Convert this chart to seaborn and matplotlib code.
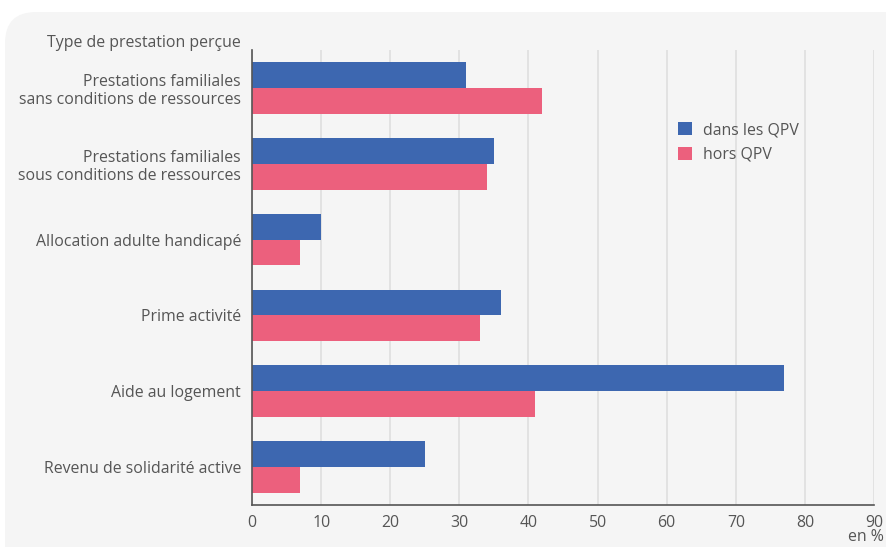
import matplotlib
matplotlib.use("Agg")
import matplotlib.pyplot as plt
import seaborn as sns
import pandas as pd
from matplotlib.patches import FancyBboxPatch, Patch

categories = [
    "Prestations familiales\nsans conditions de ressources",
    "Prestations familiales\nsous conditions de ressources",
    "Allocation adulte handicapé",
    "Prime activité",
    "Aide au logement",
    "Revenu de solidarité active",
]
series = ["dans les QPV", "hors QPV"]
dans_qpv = [31, 35, 10, 36, 77, 25]
hors_qpv = [42, 34, 7, 33, 41, 7]
x_ticks = [0, 10, 20, 30, 40, 50, 60, 70, 80, 90]

colors = {"dans les QPV": "#3D67B0", "hors QPV": "#EC607D"}
txt = "#555555"
fs = 11.4

df = pd.DataFrame({
    "cat": categories * 2,
    "serie": [series[0]] * len(categories) + [series[1]] * len(categories),
    "val": dans_qpv + hors_qpv,
})

sns.set_theme(style="white")
plt.rcParams["font.family"] = ["Open Sans", "DejaVu Sans"]

W, H = 887, 547
fig = plt.figure(figsize=(W / 100, H / 100), dpi=100, facecolor="white")
panel = FancyBboxPatch((5 / W, -0.1), 1.2, (H - 12) / H + 0.1,
                       boxstyle="round,pad=0,rounding_size=0.035",
                       transform=fig.transFigure, facecolor="#F5F5F5",
                       edgecolor="none", zorder=-10, mutation_aspect=W / H)
fig.patches.append(panel)

ax = fig.add_axes([252 / W, 1 - 505 / H, (874 - 252) / W, (505 - 50) / H])
ax.set_zorder(1)
ax.set_facecolor("none")
sns.barplot(data=df, y="cat", x="val", hue="serie", palette=colors,
            orient="h", width=0.68, saturation=1, ax=ax, legend=False,
            linewidth=0, zorder=3)
ax.set_xlim(0, 90)
ax.set_ylim(len(categories) - 0.5, -0.5)
ax.set_xticks(x_ticks)
ax.set_xticklabels([str(t) for t in x_ticks], color=txt, fontsize=fs)
ax.tick_params(axis="y", labelsize=fs, labelcolor=txt, length=0, pad=8)
ax.tick_params(axis="x", length=0, pad=7)
for lab in ax.get_yticklabels():
    lab.set_horizontalalignment("right")
    lab.set_multialignment("right")
ax.set_xlabel("")
ax.set_ylabel("")
ax.grid(axis="x", color="#DFDFDF", linewidth=1.2, zorder=0)
for s in ["top", "right"]:
    ax.spines[s].set_visible(False)
for s in ["left", "bottom"]:
    ax.spines[s].set_color("#555555")
    ax.spines[s].set_linewidth(1.2)
    ax.spines[s].set_zorder(4)

fig.text(241 / W, 1 - 43 / H, "Type de prestation perçue", ha="right",
         va="center", fontsize=fs, color=txt)
fig.text(884 / W, 1 - 537 / H, "en %", ha="right", va="center",
         fontsize=fs, color=txt)

handles = [Patch(facecolor=colors[s], edgecolor="none") for s in series]
ax.legend(handles, series, loc="upper left",
          bbox_to_anchor=((664 - 252) / (874 - 252), 1 - (108 - 50) / 455),
          frameon=False, fontsize=fs, handlelength=0.85, handleheight=0.85,
          handletextpad=0.7, labelspacing=0.55, labelcolor=txt)

fig.savefig("out.png", dpi=100, facecolor="white")
